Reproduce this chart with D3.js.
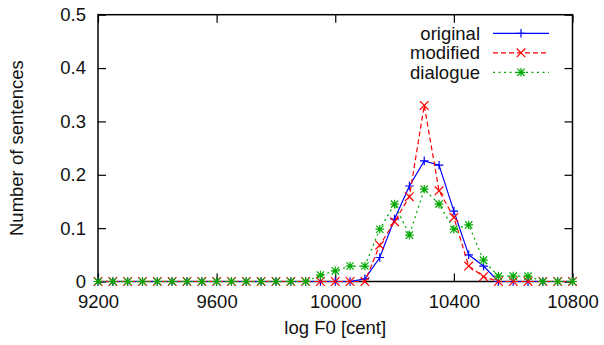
<!DOCTYPE html>
<html>
<head>
<meta charset="utf-8">
<script src="https://cdn.jsdelivr.net/npm/d3@7"></script>
<style>
  body { margin: 0; background: #fff; }
  svg { display: block; font-family: "Liberation Sans", Arial, sans-serif; }
</style>
</head>
<body>
<div id="chart"></div>
<script>
// log F0 bins [cent]
const logF0 = [9200, 9250, 9300, 9350, 9400, 9450, 9500, 9550, 9600, 9650, 9700,
  9750, 9800, 9850, 9900, 9950, 10000, 10050, 10100, 10150, 10200, 10250, 10300,
  10350, 10400, 10450, 10500, 10550, 10600, 10650, 10700, 10750, 10800];

const original = [0, 0, 0, 0, 0, 0, 0, 0, 0, 0, 0, 0, 0, 0, 0, 0, 0, 0, 0.005,
  0.045, 0.117, 0.179, 0.226, 0.218, 0.132, 0.050, 0.029, 0, 0, 0, 0, 0, 0];
const modified = [0, 0, 0, 0, 0, 0, 0, 0, 0, 0, 0, 0, 0, 0, 0, 0, 0, 0, 0,
  0.068, 0.112, 0.159, 0.330, 0.170, 0.120, 0.029, 0.009, 0, 0, 0, 0, 0, 0];
const dialogue = [0, 0, 0, 0, 0, 0, 0, 0, 0, 0, 0, 0, 0, 0, 0, 0.012, 0.020, 0.029, 0.029,
  0.098, 0.145, 0.087, 0.173, 0.145, 0.098, 0.106, 0.040, 0.010, 0.010, 0.010, 0, 0, 0];

const xTicks = [9200, 9600, 10000, 10400, 10800];
const yTicks = [0, 0.1, 0.2, 0.3, 0.4, 0.5];

const series = [
  {name: "original", values: original, color: "#0000ff", dash: null, marker: "plus"},
  {name: "modified", values: modified, color: "#ff0000", dash: "5,3", marker: "cross"},
  {name: "dialogue", values: dialogue, color: "#00a800", dash: "2,3.5", marker: "star"}
];

const width = 604, height = 345;
const plot = {left: 98, right: 572.5, top: 14.7, bottom: 281.5};
const fontSize = 18.5;

const svg = d3.select("#chart").append("svg")
  .attr("width", width)
  .attr("height", height);

const x = d3.scaleLinear().domain([9200, 10800]).range([plot.left, plot.right]);
const y = d3.scaleLinear().domain([0, 0.5]).range([plot.bottom, plot.top]);

// marker shapes
const s = 4.3;
const markerPath = {
  plus: `M${-s},0H${s}M0,${-s}V${s}`,
  cross: `M${-s},${-s}L${s},${s}M${-s},${s}L${s},${-s}`,
  star: `M${-s},0H${s}M0,${-s}V${s}M${-s*0.85},${-s*0.85}L${s*0.85},${s*0.85}M${-s*0.85},${s*0.85}L${s*0.85},${-s*0.85}`
};

// axes with inward ticks
const yFmt = d => d === 0 ? "0" : d3.format(".1f")(d);

const gx = svg.append("g")
  .attr("transform", `translate(0,${plot.bottom})`)
  .call(d3.axisBottom(x).tickValues(xTicks).tickSizeInner(-8).tickSizeOuter(0).tickPadding(13).tickFormat(d3.format("d")));
const gxTop = svg.append("g")
  .attr("transform", `translate(0,${plot.top})`)
  .call(d3.axisTop(x).tickValues(xTicks).tickSizeInner(-8).tickSizeOuter(0).tickFormat(""));
const gy = svg.append("g")
  .attr("transform", `translate(${plot.left},0)`)
  .call(d3.axisLeft(y).tickValues(yTicks).tickSizeInner(-8).tickSizeOuter(0).tickPadding(12).tickFormat(yFmt));
const gyRight = svg.append("g")
  .attr("transform", `translate(${plot.right},0)`)
  .call(d3.axisRight(y).tickValues(yTicks).tickSizeInner(-8).tickSizeOuter(0).tickFormat(""));

[gx, gxTop, gy, gyRight].forEach(g => {
  g.select(".domain").remove();
  g.selectAll(".tick line").attr("stroke", "#000").attr("stroke-width", 1.2);
  g.selectAll(".tick text")
    .attr("fill", "#111")
    .style("font-size", fontSize + "px")
    .style("font-family", "'Liberation Sans', Arial, sans-serif");
});

// frame
svg.append("rect")
  .attr("x", plot.left)
  .attr("y", plot.top)
  .attr("width", plot.right - plot.left)
  .attr("height", plot.bottom - plot.top)
  .attr("fill", "none")
  .attr("stroke", "#000")
  .attr("stroke-width", 1.5);

// axis titles
svg.append("text")
  .attr("x", (plot.left + plot.right) / 2)
  .attr("y", 334)
  .attr("text-anchor", "middle")
  .attr("fill", "#111")
  .style("font-size", fontSize + "px")
  .text("log F0 [cent]");

svg.append("text")
  .attr("transform", `translate(23,${(plot.top + plot.bottom) / 2}) rotate(-90)`)
  .attr("text-anchor", "middle")
  .attr("fill", "#111")
  .style("font-size", fontSize + "px")
  .text("Number of sentences");

// series
const line = d3.line()
  .x((d, i) => x(logF0[i]))
  .y(d => y(d));

series.forEach(sr => {
  const g = svg.append("g");
  g.append("path")
    .datum(sr.values)
    .attr("fill", "none")
    .attr("stroke", sr.color)
    .attr("stroke-width", 1.2)
    .attr("stroke-dasharray", sr.dash)
    .attr("d", line);
  g.selectAll("path.mk")
    .data(sr.values)
    .join("path")
    .attr("class", "mk")
    .attr("transform", (d, i) => `translate(${x(logF0[i])},${y(d)})`)
    .attr("d", markerPath[sr.marker])
    .attr("fill", "none")
    .attr("stroke", sr.color)
    .attr("stroke-width", 1.2);
});

// legend
const legend = svg.append("g");
series.forEach((sr, i) => {
  const ly = 33.3 + i * 19.5;
  legend.append("text")
    .attr("x", 480)
    .attr("y", ly)
    .attr("dy", "0.35em")
    .attr("text-anchor", "end")
    .attr("fill", "#111")
    .style("font-size", fontSize + "px")
    .text(sr.name);
  legend.append("line")
    .attr("x1", 493).attr("x2", 549)
    .attr("y1", ly).attr("y2", ly)
    .attr("stroke", sr.color)
    .attr("stroke-width", 1.2)
    .attr("stroke-dasharray", sr.dash);
  legend.append("path")
    .attr("transform", `translate(521,${ly})`)
    .attr("d", markerPath[sr.marker])
    .attr("fill", "none")
    .attr("stroke", sr.color)
    .attr("stroke-width", 1.2);
});
</script>
</body>
</html>
